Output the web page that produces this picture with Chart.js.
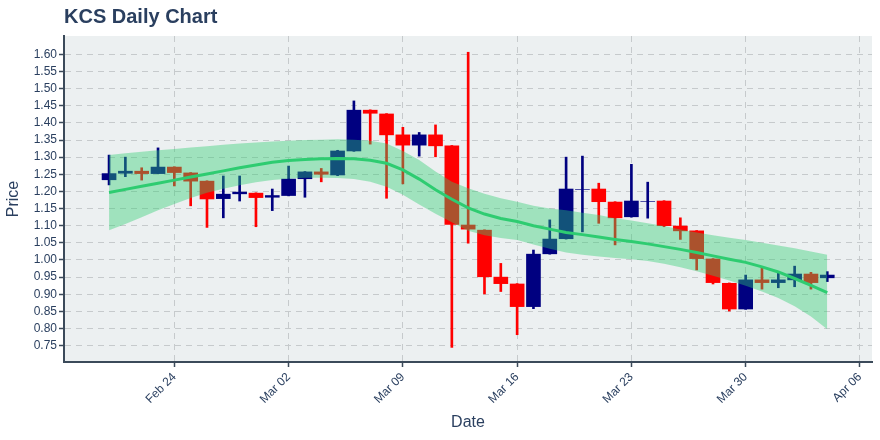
<!DOCTYPE html>
<html><head><meta charset="utf-8">
<script src="https://cdn.jsdelivr.net/npm/chart.js@4.4.1/dist/chart.umd.min.js"></script>
<style>html,body{margin:0;padding:0;background:#fff}#wrap{width:880px;height:440px;position:relative}</style>
</head><body><div id="wrap"><canvas id="c"></canvas></div>
<script>
const dates = ['2020-02-20','2020-02-21','2020-02-22','2020-02-23','2020-02-24','2020-02-25','2020-02-26','2020-02-27','2020-02-28','2020-02-29',
  '2020-03-01','2020-03-02','2020-03-03','2020-03-04','2020-03-05','2020-03-06','2020-03-07','2020-03-08','2020-03-09','2020-03-10',
  '2020-03-11','2020-03-12','2020-03-13','2020-03-14','2020-03-15','2020-03-16','2020-03-17','2020-03-18','2020-03-19','2020-03-20',
  '2020-03-21','2020-03-22','2020-03-23','2020-03-24','2020-03-25','2020-03-26','2020-03-27','2020-03-28','2020-03-29','2020-03-30',
  '2020-03-31','2020-04-01','2020-04-02','2020-04-03','2020-04-04'];
const open  = [1.234,1.253,1.259,1.252,1.271,1.254,1.230,1.179,1.193,1.195,1.183,1.188,1.237,1.257,1.248,1.318,1.437,1.426,1.365,1.335,1.365,1.333,1.102,1.087,0.950,0.930,0.864,1.018,1.062,1.206,1.207,1.169,1.126,1.171,1.172,1.099,1.085,1.003,0.932,0.857,0.942,0.934,0.942,0.959,0.948];
const high  = [1.306,1.300,1.269,1.327,1.272,1.255,1.231,1.245,1.245,1.196,1.207,1.274,1.258,1.267,1.320,1.464,1.438,1.427,1.387,1.372,1.394,1.334,1.606,1.088,0.990,0.931,1.029,1.117,1.300,1.303,1.224,1.170,1.279,1.227,1.173,1.123,1.086,1.004,0.933,0.956,0.978,0.963,0.982,0.964,0.966];
const low   = [1.219,1.243,1.233,1.252,1.216,1.158,1.095,1.123,1.172,1.097,1.144,1.187,1.183,1.228,1.246,1.317,1.338,1.180,1.222,1.303,1.301,0.745,1.049,0.901,0.908,0.782,0.858,1.017,1.061,1.082,1.107,1.044,1.125,1.122,1.097,1.060,0.971,0.930,0.851,0.856,0.915,0.919,0.922,0.915,0.937];
const close = [1.252,1.259,1.252,1.271,1.255,1.230,1.178,1.192,1.198,1.182,1.188,1.236,1.257,1.250,1.318,1.437,1.428,1.365,1.335,1.365,1.333,1.104,1.090,0.951,0.931,0.864,1.017,1.061,1.207,1.206,1.170,1.123,1.172,1.171,1.100,1.085,1.004,0.934,0.857,0.942,0.934,0.942,0.959,0.934,0.956];
const trend = [1.197,1.206,1.215,1.224,1.233,1.242,1.251,1.260,1.269,1.277,1.285,1.290,1.293,1.295,1.296,1.295,1.291,1.282,1.263,1.236,1.205,1.177,1.152,1.134,1.121,1.112,1.100,1.090,1.080,1.074,1.067,1.060,1.054,1.047,1.039,1.031,1.022,1.012,1.002,0.993,0.980,0.965,0.946,0.926,0.905];
const trendUpper = [1.306,1.311,1.316,1.320,1.324,1.328,1.332,1.336,1.340,1.343,1.346,1.348,1.350,1.351,1.352,1.351,1.348,1.340,1.318,1.292,1.258,1.228,1.209,1.193,1.180,1.170,1.158,1.150,1.145,1.138,1.131,1.122,1.115,1.107,1.099,1.089,1.080,1.072,1.065,1.058,1.050,1.042,1.034,1.025,1.015];
const trendLower = [1.087,1.105,1.125,1.145,1.163,1.181,1.196,1.208,1.218,1.227,1.233,1.237,1.240,1.240,1.239,1.236,1.228,1.214,1.190,1.162,1.135,1.110,1.085,1.072,1.064,1.058,1.045,1.033,1.022,1.015,1.010,1.006,1.002,0.997,0.989,0.979,0.967,0.954,0.940,0.925,0.908,0.889,0.865,0.835,0.798];
const xTickDates = ['2020-02-24','2020-03-02','2020-03-09','2020-03-16','2020-03-23','2020-03-30','2020-04-06'];
const xTickLabels = ['Feb 24','Mar 02','Mar 09','Mar 16','Mar 23','Mar 30','Apr 06'];
const yTicks = [0.75,0.80,0.85,0.90,0.95,1.00,1.05,1.10,1.15,1.20,1.25,1.30,1.35,1.40,1.45,1.50,1.55,1.60];

const dayNum = s => Date.parse(s + 'T00:00:00Z') / 86400000;
const xs = dates.map(dayNum);
const xTickVals = xTickDates.map(dayNum);

const UP = '#000080', DOWN = '#ff0000', TEXT = '#2a3f5f';
const isUp = i => close[i] >= open[i];
const pts = (cond, f) => xs.map((x, i) => cond(i) ? {x, y: f(i)} : null).filter(Boolean);

const bgPlugin = {
  id: 'plotbg',
  beforeDraw(chart) {
    const {ctx, chartArea: a} = chart;
    ctx.save(); ctx.fillStyle = '#ecf0f1';
    ctx.fillRect(a.left, a.top, a.right - a.left, a.bottom - a.top);
    ctx.restore();
  }
};

const gridCommon = {color: '#c6cacc', lineWidth: 1, tickLength: 5, tickColor: '#3b4a5a', tickWidth: 1.5, tickBorderDash: [], offset: false};
const FONT = 'Liberation Sans, Arial, sans-serif';

new Chart(document.getElementById('c'), {
  data: {
    datasets: [
      {type: 'line', label: 'Trend', data: xs.map((x, i) => ({x, y: trend[i]})), borderColor: '#2ecc71', borderWidth: 3, pointRadius: 0, fill: false, order: 0},
      {type: 'line', label: 'Upper', data: xs.map((x, i) => ({x, y: trendUpper[i]})), borderWidth: 0, pointRadius: 0, fill: '+1', backgroundColor: 'rgba(46,204,113,0.4)', order: 1},
      {type: 'line', label: 'Lower', data: xs.map((x, i) => ({x, y: trendLower[i]})), borderWidth: 0, pointRadius: 0, fill: false, order: 1},
      {type: 'bar', label: 'UpBody', data: pts(isUp, i => [open[i], close[i]]), backgroundColor: UP, barThickness: 14, grouped: false, order: 2},
      {type: 'bar', label: 'DownBody', data: pts(i => !isUp(i), i => [close[i], open[i]]), backgroundColor: DOWN, barThickness: 14, grouped: false, order: 2},
      {type: 'bar', label: 'UpWick', data: pts(isUp, i => [low[i], high[i]]), backgroundColor: UP, barThickness: 2, grouped: false, order: 3},
      {type: 'bar', label: 'DownWick', data: pts(i => !isUp(i), i => [low[i], high[i]]), backgroundColor: DOWN, barThickness: 2, grouped: false, order: 3}
    ]
  },
  options: {
    responsive: true, maintainAspectRatio: false, animation: false,
    layout: {padding: {left: 0, right: 8, top: 0, bottom: 0}},
    plugins: {
      legend: {display: false}, tooltip: {enabled: false},
      title: {display: true, text: 'KCS Daily Chart', align: 'start', fullSize: false, color: TEXT,
        font: {family: FONT, size: 20, weight: 'bold'}, padding: {top: 5, bottom: 7}}
    },
    scales: {
      x: {
        type: 'linear', offset: false, min: dayNum('2020-02-24') - 6.76, max: dayNum('2020-04-06') + 0.74,
        afterBuildTicks: s => { s.ticks = xTickVals.map(v => ({value: v})); },
        afterFit: s => { s.height = 78; },
        ticks: {autoSkip: false, minRotation: 45, maxRotation: 45, padding: 3, color: TEXT,
          font: {family: FONT, size: 12},
          callback: (v) => xTickLabels[xTickVals.indexOf(v)] ?? ''},
        grid: gridCommon,
        border: {display: true, color: '#3b4a5a', width: 2, dash: [6, 5]},
        title: {display: true, text: 'Date', color: TEXT, font: {family: FONT, size: 16}, padding: {top: 4, bottom: 8}}
      },
      y: {
        type: 'linear', min: 0.7024, max: 1.6534,
        afterBuildTicks: s => { s.ticks = yTicks.map(v => ({value: v})); },
        afterFit: s => { s.width = 64; },
        ticks: {padding: 2, color: TEXT, font: {family: FONT, size: 12},
          callback: v => Number(v).toFixed(2)},
        grid: gridCommon,
        border: {display: true, color: '#3b4a5a', width: 2, dash: [6, 5]},
        title: {display: true, text: 'Price', color: TEXT, font: {family: FONT, size: 16}, padding: {top: 4, bottom: 4}}
      }
    }
  },
  plugins: [bgPlugin]
});
</script></body></html>
